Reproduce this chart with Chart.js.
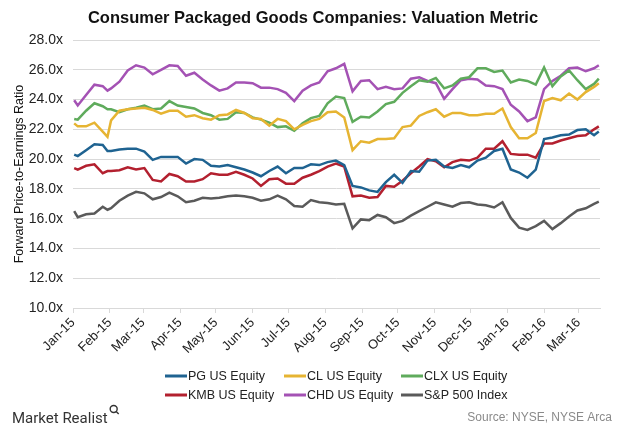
<!DOCTYPE html>
<html>
<head>
<meta charset="utf-8">
<script src="https://cdn.jsdelivr.net/npm/chart.js@4.4.1/dist/chart.umd.min.js"></script>
<style>
  html, body { margin: 0; padding: 0; background: #ffffff; }
  #wrap { width: 620px; height: 430px; position: relative; }
</style>
</head>
<body>
<div id="wrap"><canvas id="c" width="620" height="430"></canvas></div>
<script>
// ---- data ----
const dates = ['2015-01-02','2015-01-05','2015-01-12','2015-01-19','2015-01-26','2015-01-30','2015-02-02','2015-02-09','2015-02-16','2015-02-23',
  '2015-03-02','2015-03-09','2015-03-16','2015-03-23','2015-03-30','2015-04-06','2015-04-13','2015-04-20','2015-04-27','2015-05-04',
  '2015-05-11','2015-05-18','2015-05-25','2015-06-01','2015-06-08','2015-06-15','2015-06-22','2015-06-29','2015-07-06','2015-07-13',
  '2015-07-20','2015-07-27','2015-08-03','2015-08-10','2015-08-17','2015-08-24','2015-08-31','2015-09-07','2015-09-14','2015-09-21',
  '2015-09-28','2015-10-05','2015-10-12','2015-10-19','2015-10-26','2015-11-02','2015-11-09','2015-11-16','2015-11-23','2015-11-30',
  '2015-12-07','2015-12-14','2015-12-21','2015-12-28','2016-01-04','2016-01-11','2016-01-18','2016-01-25','2016-02-01','2016-02-08',
  '2016-02-15','2016-02-22','2016-02-29','2016-03-07','2016-03-14','2016-03-18'];

const pg = [20.3,20.2,20.6,21.0,20.95,20.55,20.55,20.65,20.7,20.7,20.5,19.95,20.15,20.15,20.15,19.7,20.0,19.95,19.55,19.5,19.6,19.45,19.3,19.1,
  18.85,19.2,19.5,19.05,19.4,19.4,19.65,19.6,19.8,19.9,19.6,18.2,18.1,17.9,17.8,18.45,18.95,18.4,19.2,19.15,19.9,19.95,19.5,
  19.4,19.6,19.45,19.9,20.1,20.55,20.7,19.3,19.1,18.75,19.3,21.35,21.45,21.6,21.65,21.95,22.0,21.6,21.85];
const cl = [22.4,22.2,22.2,22.45,21.85,21.5,22.6,23.25,23.35,23.4,23.45,23.3,23.05,23.25,23.25,22.85,22.95,22.75,22.65,22.95,23.0,23.3,23.1,22.75,
  22.7,22.25,22.7,22.55,22.0,22.3,22.55,22.7,23.15,23.2,22.8,20.6,21.2,21.1,21.35,21.35,21.4,22.15,22.25,22.9,23.15,23.35,22.85,
  23.1,23.1,22.95,22.95,23.05,23.05,23.4,22.15,21.4,21.4,21.75,23.9,24.1,23.95,24.4,24.0,24.5,24.85,25.1];
const clx = [22.7,22.65,23.25,23.75,23.55,23.35,23.35,23.15,23.35,23.45,23.6,23.35,23.4,23.9,23.6,23.5,23.4,23.1,22.95,22.65,22.7,23.15,23.1,22.8,
  22.65,22.45,22.15,22.2,21.9,22.4,22.75,22.9,23.75,24.2,24.1,22.5,22.85,22.8,23.2,23.7,23.85,24.45,24.9,25.3,25.2,25.45,24.75,
  24.95,25.4,25.5,26.1,26.1,25.85,25.95,25.15,25.35,25.25,25.0,26.15,24.9,25.55,25.95,25.3,24.7,25.05,25.4];
const kmb = [19.4,19.3,19.55,19.65,19.05,19.2,19.2,19.25,19.45,19.3,19.4,18.6,18.5,19.0,18.85,18.5,18.5,18.65,19.05,18.95,18.95,19.15,18.95,18.7,
  18.2,18.65,18.7,18.35,18.35,18.75,18.95,19.2,19.5,19.7,19.5,17.5,17.55,17.4,17.45,18.2,18.15,18.55,19.05,19.5,20.0,19.85,19.45,
  19.8,19.95,19.9,20.1,20.7,20.7,21.2,20.35,20.3,20.3,20.1,21.05,21.05,21.25,21.4,21.55,21.6,22.0,22.2];
const chd = [23.95,23.6,24.3,25.0,24.9,24.6,24.75,25.2,25.95,26.3,26.15,25.7,26.0,26.3,26.25,25.6,25.8,25.35,24.95,24.6,24.75,25.15,25.15,25.1,
  24.8,24.8,24.7,24.45,23.9,24.6,24.95,25.15,25.9,26.1,26.4,24.55,25.25,25.3,24.7,24.85,24.7,24.75,25.4,25.5,25.25,25.1,24.05,
  24.7,25.3,25.4,25.35,24.95,24.9,24.7,23.65,23.2,22.55,22.8,24.7,25.25,25.6,26.1,26.15,25.9,26.1,26.3];
const spx = [16.5,16.1,16.3,16.35,16.8,16.6,16.7,17.2,17.55,17.8,17.7,17.3,17.45,17.75,17.5,17.1,17.2,17.4,17.35,17.4,17.5,17.55,17.5,17.4,
  17.2,17.3,17.55,17.3,16.85,16.8,17.25,17.1,17.05,16.95,17.0,15.35,15.95,15.9,16.25,16.1,15.7,15.85,16.2,16.5,16.8,17.1,16.95,
  16.8,17.05,17.1,16.95,16.9,16.75,17.1,16.05,15.4,15.25,15.5,15.85,15.3,15.7,16.15,16.55,16.7,17.0,17.15];

const seriesNames = ['PG US Equity','CL US Equity','CLX US Equity','KMB US Equity','CHD US Equity','S&P 500 Index'];
const seriesColors = ['#1f6391','#e6b432','#5fab5c','#b3202f','#a452b4','#5a5a5a'];

const tickDates = ['2015-01-01','2015-02-01','2015-03-01','2015-04-01','2015-05-01','2015-06-01','2015-07-01','2015-08-01',
  '2015-09-01','2015-10-01','2015-11-01','2015-12-01','2016-01-01','2016-02-01','2016-03-01'];
const tickLabels = ['Jan-15','Feb-15','Mar-15','Apr-15','May-15','Jun-15','Jul-15','Aug-15','Sep-15','Oct-15','Nov-15','Dec-15','Jan-16','Feb-16','Mar-16'];
const yTicks = [10,12,14,16,18,20,22,24,26,28];

const chartTitle = 'Consumer Packaged Goods Companies: Valuation Metric';
const yTitle = 'Forward Price-to-Earnings Ratio';
const brandText = 'Market Realist';
const sourceText = 'Source: NYSE, NYSE Arca';

// ---- helpers ----
const ORIGIN = Date.UTC(2015,0,1);
function dayIndex(s){ const p = s.split('-').map(Number); return (Date.UTC(p[0],p[1]-1,p[2]) - ORIGIN)/86400000; }
const xs = dates.map(dayIndex);
const tickDays = tickDates.map(dayIndex);
const allSeries = [pg, cl, clx, kmb, chd, spx];

const datasets = allSeries.map((vals, i) => ({
  label: seriesNames[i],
  data: vals.map((v, j) => ({x: xs[j], y: v})),
  borderColor: seriesColors[i],
  backgroundColor: seriesColors[i],
  borderWidth: 2.5,
  pointRadius: 0,
  tension: 0,
  fill: false,
  order: i
}));

const FONT = "'Liberation Sans', Arial, sans-serif";

const decorPlugin = {
  id: 'decor',
  afterDraw(chart) {
    const ctx = chart.ctx;
    ctx.save();
    // title, centred like the reference
    ctx.font = "bold 16.5px " + FONT;
    ctx.fillStyle = '#111';
    ctx.textAlign = 'center';
    ctx.textBaseline = 'middle';
    ctx.fillText(chartTitle, 313, 18);

    // legend in a 3x2 grid
    const colX = [165, 284, 401];
    const rowY = [376, 395];
    ctx.font = "12.5px " + FONT;
    ctx.textAlign = 'left';
    chart.data.datasets.forEach((ds, i) => {
      const x = colX[i % 3], y = rowY[Math.floor(i / 3)];
      ctx.strokeStyle = ds.borderColor;
      ctx.lineWidth = 3;
      ctx.beginPath(); ctx.moveTo(x, y); ctx.lineTo(x + 22, y); ctx.stroke();
      ctx.fillStyle = '#222';
      ctx.fillText(ds.label, x + 23, y + 0.5);
    });
    // footer
    ctx.font = "15px 'Liberation Sans Narrow', 'Roboto', sans-serif";
    ctx.fillStyle = '#333';
    ctx.fillText(brandText, 12, 419);
    const w = ctx.measureText(brandText).width;
    ctx.strokeStyle = '#333'; ctx.lineWidth = 1.4;
    ctx.beginPath(); ctx.arc(12 + w + 6, 409, 3.5, 0, Math.PI * 2); ctx.stroke();
    ctx.beginPath(); ctx.moveTo(12 + w + 8.5, 411.5); ctx.lineTo(12 + w + 11, 414); ctx.stroke();
    ctx.font = "12px " + FONT;
    ctx.fillStyle = '#8a8a8a';
    ctx.textAlign = 'right';
    ctx.fillText(sourceText, 612, 418);
    ctx.restore();
  }
};

new Chart(document.getElementById('c'), {
  type: 'line',
  data: { datasets },
  plugins: [decorPlugin],
  options: {
    responsive: false,
    animation: false,
    devicePixelRatio: 1,
    layout: { padding: { left: 0, right: 20, top: 40, bottom: 0 } },
    plugins: {
      legend: { display: false },
      tooltip: { enabled: false },
      title: { display: false }
    },
    scales: {
      x: {
        type: 'linear',
        min: 0,
        max: 443,
        afterBuildTicks(scale) { scale.ticks = tickDays.map(v => ({ value: v })); },
        afterFit(scale) { scale.height = 122; },
        ticks: {
          autoSkip: false,
          maxRotation: 45,
          minRotation: 45,
          padding: 2,
          color: '#222',
          font: { family: FONT, size: 13 },
          callback(v) { const k = tickDays.indexOf(v); return k >= 0 ? tickLabels[k] : ''; }
        },
        grid: { display: true, drawOnChartArea: false, drawTicks: true, tickLength: 5, color: '#d9d9d9' },
        border: { display: true, color: '#d9d9d9' }
      },
      y: {
        min: 10,
        max: 28,
        afterBuildTicks(scale) { scale.ticks = yTicks.map(v => ({ value: v })); },
        afterFit(scale) { scale.width = 73; },
        ticks: {
          padding: 10,
          color: '#222',
          font: { family: FONT, size: 14 },
          callback(v) { return v.toFixed(1) + 'x'; }
        },
        grid: { color: '#d9d9d9', drawTicks: false, lineWidth: 1 },
        border: { display: false },
        title: {
          display: true,
          text: yTitle,
          color: '#111',
          font: { family: FONT, size: 12.5 },
          padding: { top: 12, bottom: 0 }
        }
      }
    }
  }
});
</script>
</body>
</html>
